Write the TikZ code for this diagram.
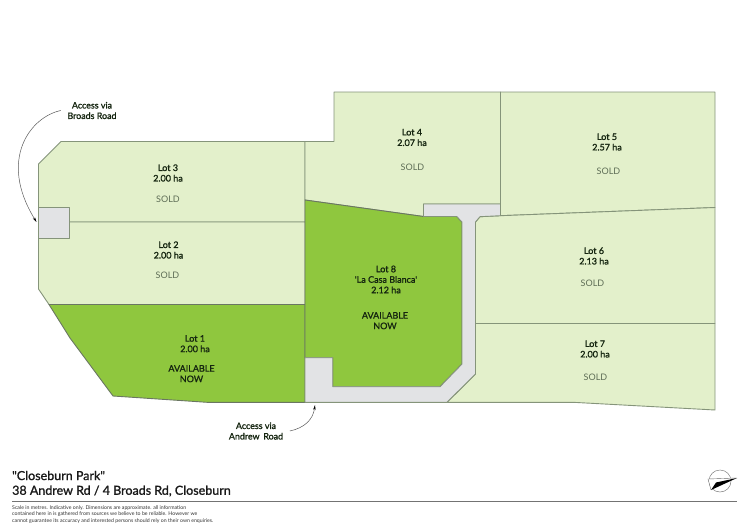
\documentclass[tikz,border=0pt]{standalone}
\usepackage{fontspec}
\setmainfont{Lato}
\newfontfamily\semifont[FakeBold=1.2]{Lato}
\usetikzlibrary{arrows.meta}
\definecolor{soldfill}{HTML}{E3F0CB}
\definecolor{availfill}{HTML}{8FC73E}
\definecolor{roadfill}{HTML}{E2E3E5}
\definecolor{edgecol}{HTML}{85947A}
\definecolor{inkcol}{HTML}{14240F}
\definecolor{soldink}{HTML}{5E6D56}
\tikzset{
  x=1pt,y=-1pt,
  soldlot/.style={fill=soldfill,draw=edgecol,line width=0.9pt,line join=round},
  availlot/.style={fill=availfill,draw=edgecol!80!black,line width=0.9pt,line join=round},
  roadarea/.style={fill=roadfill,draw=edgecol,line width=0.9pt,line join=round},
  lotlabel/.style={align=center,inner sep=0pt,text=inkcol,font=\fontsize{9}{10.5}\selectfont\semifont},
  statuslabel/.style={align=center,inner sep=0pt,text=soldink,font=\fontsize{9}{10.5}\selectfont},
  availlabel/.style={align=center,inner sep=0pt,text=inkcol,font=\fontsize{9}{10.5}\selectfont\semifont},
  accesslabel/.style={align=center,inner ysep=0pt,inner xsep=6.5pt,text=inkcol,font=\fontsize{8.9}{10.5}\selectfont\semifont},
  accessarrow/.style={draw=black!65,line width=0.5pt,-{Stealth[length=5pt,width=2.4pt,black]}},
  titletext/.style={anchor=west,inner sep=0pt,font=\fontsize{12.5}{15}\selectfont\semifont,text=black!90},
}
\begin{document}
\begin{tikzpicture}
\useasboundingbox (0,0) rectangle (750,530);
% lots
\path[soldlot] (38.5,164)--(61,141.5)--(305,141.5)--(305,222)--(69,222)--(69,207.5)--(38.5,207.5)--cycle;
\path[soldlot] (38.5,238)--(69,238)--(69,222)--(305,222)--(305,304.5)--(49,304.5)--(38.5,289)--cycle;
\path[soldlot] (305,141.5)--(334,141.5)--(334,92)--(500.5,92)--(500.5,204)--(423.5,204)--(423.5,216.5)--(305,200)--cycle;
\path[soldlot] (500.5,92)--(715,92)--(715,207.5)--(500.5,215.7)--cycle;
\path[soldlot] (480,216.7)--(500.5,215.7)--(715,207.5)--(715,323.5)--(475.5,323.5)--(475.5,222)--cycle;
\path[soldlot] (475.5,323.5)--(715,323.5)--(715,410)--(573,402.3)--(447,402.3)--(475.5,374)--cycle;
\path[availlot] (49,304.5)--(305,304.5)--(305,402.3)--(207,402.3)--(113,396)--(70,338)--cycle;
\path[availlot] (305,200)--(423.5,216.5)--(456.7,216.5)--(462,222)--(462,364)--(440,386.7)--(332.7,386.7)--(332.7,357.7)--(305,357.7)--cycle;
% roads
\path[roadarea] (38.5,207.5)--(69,207.5)--(69,238)--(38.5,238)--cycle;
\path[roadarea] (305,357.7)--(332.7,357.7)--(332.7,386.7)--(440,386.7)--(462,364)--(462,222)--(456.7,216.5)--(423.5,216.5)--(423.5,204)--(500.5,204)--(500.5,215.7)--(480,216.7)--(475.5,222)--(475.5,374)--(447,402.3)--(305,402.3)--cycle;
% lot labels
\node[lotlabel] (l3) at (168,173) {Lot 3\\2.00 ha};
\node[statuslabel] (s3) at (168,199.5) {SOLD};
\node[lotlabel] (l2) at (168.5,250) {Lot 2\\2.00 ha};
\node[statuslabel] (s2) at (167.5,275) {SOLD};
\node[lotlabel] (l1) at (195,343.7) {Lot 1\\2.00 ha};
\node[availlabel] (s1) at (191.5,373.7) {AVAILABLE\\NOW};
\node[lotlabel] (l8) at (386,279.5) {Lot 8\\'La Casa Blanca'\\2.12 ha};
\node[availlabel] (s8) at (385,320.7) {AVAILABLE\\NOW};
\node[lotlabel] (l4) at (412,137.5) {Lot 4\\2.07 ha};
\node[statuslabel] (s4) at (412.5,167) {SOLD};
\node[lotlabel] (l5) at (607,142) {Lot 5\\2.57 ha};
\node[statuslabel] (s5) at (608.5,171) {SOLD};
\node[lotlabel] (l6) at (594,256) {Lot 6\\2.13 ha};
\node[statuslabel] (s6) at (592.5,283) {SOLD};
\node[lotlabel] (l7) at (595,349) {Lot 7\\2.00 ha};
\node[statuslabel] (s7) at (595.5,377) {SOLD};
% access
\node[accesslabel] (broads) at (92,110.5) {Access via\\Broads Road};
\node[accesslabel] (andrew) at (256,431) {Access via\\Andrew\, Road};
\coordinate (broadsend) at (36.5,222);
\coordinate (andrewend) at (315,405);
\draw[accessarrow] (broads.west) .. controls (30,117) and (-2,160) .. (broadsend);
\draw[accessarrow] (andrew.east) .. controls (304,428) and (313,420) .. (andrewend);
% title
\node[titletext] (t1) at (12,475.5) {"Closeburn Park"};
\node[titletext] (t2) at (12,491) {38 Andrew Rd / 4 Broads Rd, Closeburn};
\coordinate (ruleL) at (12,501.3);
\coordinate (ruleR) at (737,501.3);
\draw[black!55,line width=0.7pt] (ruleL) -- (ruleR);
\node[anchor=north west,align=left,inner sep=0pt,font=\fontsize{5.2}{6.7}\selectfont,text=black!80] (fine) at (12,505) {Scale in metres. Indicative only. Dimensions are approximate. all information\\contained here in is gathered from sources we believe to be reliable. However we\\cannot guarantee its accuracy and interested persons should rely on their own enquiries.};
% compass
\draw[black!50,line width=0.5pt] (720,481) circle (11);
\fill[white] (737,478) -- (708,479) -- (711,490) -- (716,482.5) -- cycle;
\draw[black!60,line width=0.4pt] (737,478) -- (708,479) -- (711,490);
\fill[black] (737,478) -- (711,490) -- (716,482.5) -- cycle;
\end{tikzpicture}
\end{document}
